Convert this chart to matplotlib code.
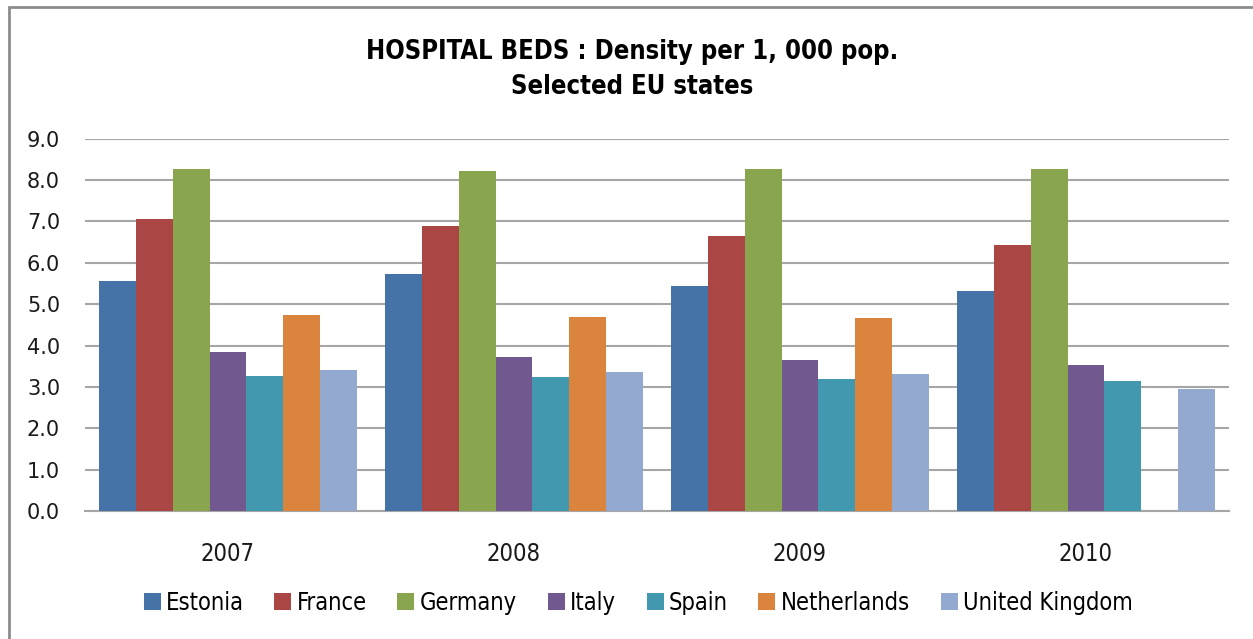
import numpy as np
import matplotlib
matplotlib.use("Agg")
import matplotlib.pyplot as plt
from matplotlib.patches import Rectangle

years = ["2007", "2008", "2009", "2010"]
countries = ["Estonia", "France", "Germany", "Italy", "Spain", "Netherlands", "United Kingdom"]

estonia = [5.57, 5.72, 5.45, 5.32]
france = [7.05, 6.90, 6.65, 6.43]
germany = [8.26, 8.23, 8.26, 8.26]
italy = [3.84, 3.73, 3.64, 3.52]
spain = [3.27, 3.24, 3.18, 3.15]
netherlands = [4.73, 4.70, 4.66, np.nan]
united_kingdom = [3.40, 3.37, 3.30, 2.95]

series = [estonia, france, germany, italy, spain, netherlands, united_kingdom]
colors = ["#4572A7", "#AA4643", "#89A54E", "#71588F", "#4198AF", "#DB843D", "#93A9CF"]

W, H = 1253, 639
fig = plt.figure(figsize=(W / 100, H / 100), dpi=100)

# chart frame
fig.patches.append(Rectangle((9 / W, -0.05), 1.2, 1 - 7 / H + 0.05,
                             transform=fig.transFigure, fill=False,
                             edgecolor="#8c8c8c", linewidth=2.0, zorder=0))

ax = fig.add_axes([85 / W, 1 - 511 / H, (1229 - 85) / W, (511 - 138.7) / H])

n = len(series)
group_w = 0.9
bw = group_w / n
x = np.arange(len(years))
for i, (vals, c, name) in enumerate(zip(series, colors, countries)):
    offs = -group_w / 2 + bw * (i + 0.5)
    ax.bar(x + offs, vals, width=bw, color=c, label=name, zorder=3,
           edgecolor="none")

ax.set_xlim(-0.5, len(years) - 0.5)
ax.set_ylim(0, 9)
ticks = np.arange(0, 9.1, 1.0)
ax.set_yticks(ticks)
ax.set_yticklabels([f"{v:.1f}" for v in ticks], fontsize=15, color="#1a1a1a")
ax.yaxis.grid(True, color="#a6a6a6", linewidth=1.5, zorder=0)
ax.set_axisbelow(True)
ax.tick_params(axis="y", length=0, pad=18)
ax.set_xticks(x)
ax.set_xticklabels(years, fontsize=17, color="#1a1a1a", fontstretch="condensed")
ax.tick_params(axis="x", length=0, pad=22)
for s in ("left", "right", "top"):
    ax.spines[s].set_visible(False)
ax.spines["bottom"].set_color("#a6a6a6")
ax.spines["bottom"].set_linewidth(1.5)

fig.text(632 / W, 1 - 52 / H, "HOSPITAL BEDS : Density per 1, 000 pop.",
         ha="center", va="center", fontsize=18.4, fontweight="bold",
         fontstretch="condensed")
fig.text(632 / W, 1 - 87 / H, "Selected EU states",
         ha="center", va="center", fontsize=18.4, fontweight="bold",
         fontstretch="condensed")

fig.legend(loc="center", bbox_to_anchor=(638 / W, 1 - 603 / H), ncol=7,
           frameon=False, prop={"size": 17, "stretch": "condensed"},
           handlelength=0.72, handleheight=0.72, handletextpad=0.22,
           columnspacing=1.3)

fig.savefig("out.png", dpi=100)
